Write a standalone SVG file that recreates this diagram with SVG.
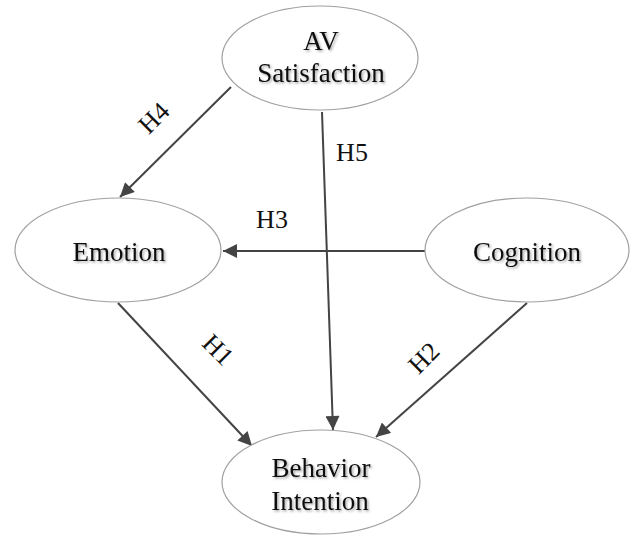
<svg xmlns="http://www.w3.org/2000/svg" width="630" height="536" viewBox="0 0 630 536">
<defs>
<style>
.node ellipse{fill:#fff;stroke:#a0a0a0;stroke-width:1.2}
.node text{font-family:"Liberation Serif","Times New Roman",serif;font-size:27px;fill:#111;text-anchor:middle;filter:url(#sh)}
.edge{stroke:#444;stroke-width:2;fill:none;marker-end:url(#ah)}
.lbl{font-family:"Liberation Serif","Times New Roman",serif;font-size:26px;fill:#111;text-anchor:middle}
</style>
<filter id="sh" x="-10%" y="-20%" width="130%" height="150%">
<feDropShadow dx="1.5" dy="1.5" stdDeviation="1" flood-color="#000" flood-opacity="0.35"/>
</filter>
<marker id="ah" viewBox="0 0 10 10" refX="10" refY="5" markerWidth="7.5" markerHeight="7" markerUnits="strokeWidth" orient="auto">
<path d="M0,0 L10,5 L0,10 z" fill="#444"/>
</marker>
</defs>
<g id="connectors">
<line class="edge" x1="231" y1="87" x2="120" y2="197"/>
<line class="edge" x1="322" y1="112" x2="333" y2="430"/>
<line class="edge" x1="425" y1="251" x2="223" y2="251"/>
<line class="edge" x1="118" y1="303" x2="252" y2="446"/>
<line class="edge" x1="527" y1="303" x2="376" y2="437"/>
<text class="lbl" transform="translate(160,124) rotate(-45)">H4</text>
<text class="lbl" x="352" y="161">H5</text>
<text class="lbl" x="272" y="228">H3</text>
<text class="lbl" transform="translate(212,356) rotate(45)">H1</text>
<text class="lbl" transform="translate(430,364) rotate(-45)">H2</text>
</g>
<g id="av-satisfaction" class="node">
<ellipse cx="320" cy="58" rx="98" ry="52"/>
<text x="321" y="50">AV</text>
<text x="321" y="82">Satisfaction</text>
</g>
<g id="emotion" class="node">
<ellipse cx="118" cy="250" rx="103" ry="52"/>
<text x="119" y="261">Emotion</text>
</g>
<g id="cognition" class="node">
<ellipse cx="527" cy="250" rx="102" ry="52"/>
<text x="527" y="261">Cognition</text>
</g>
<g id="behavior-intention" class="node">
<ellipse cx="321" cy="482" rx="99" ry="52"/>
<text x="321" y="477">Behavior</text>
<text x="320" y="510">Intention</text>
</g>
</svg>
